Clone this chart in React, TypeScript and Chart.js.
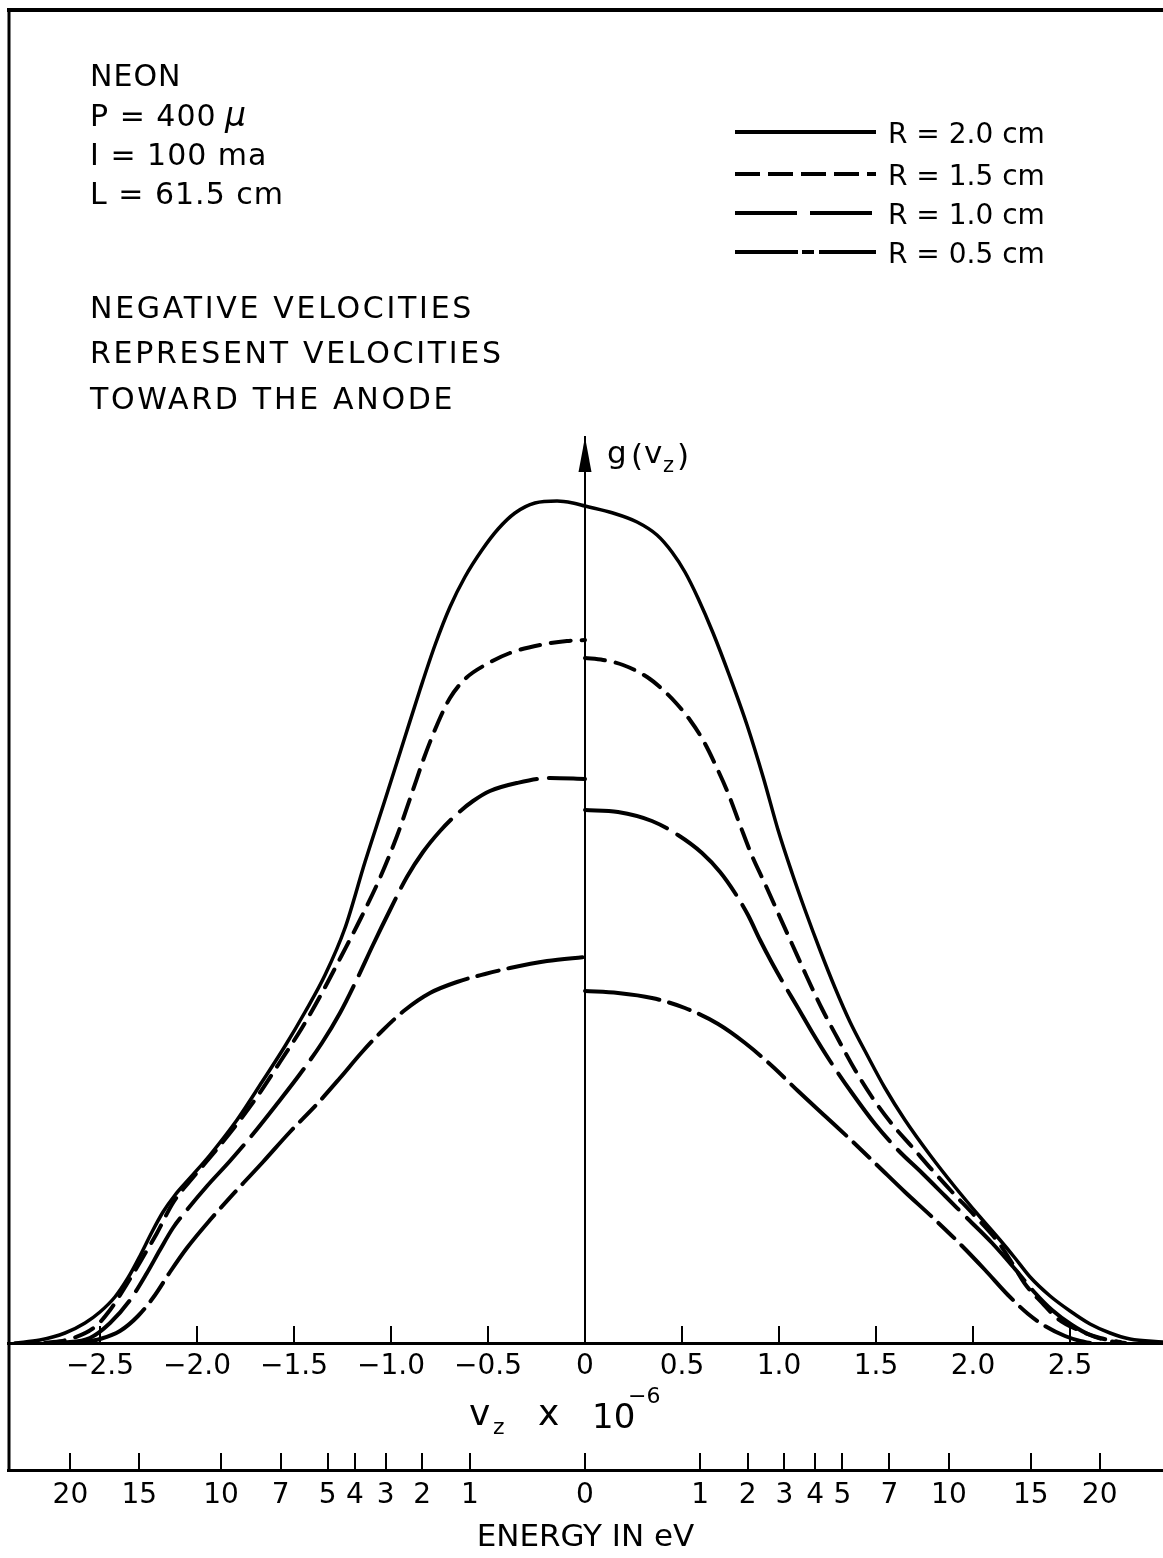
import { useEffect, useRef } from "react";
import { Chart, registerables } from "chart.js";

Chart.register(...registerables);

// ---------------- data ----------------
// velocity axis (v_z x 10^-6)
const vTicks = [-2.5, -2.0, -1.5, -1.0, -0.5, 0, 0.5, 1.0, 1.5, 2.0, 2.5];
const vTickLabels = ["\u22122.5", "\u22122.0", "\u22121.5", "\u22121.0", "\u22120.5", "0", "0.5", "1.0", "1.5", "2.0", "2.5"];

// energy axis (eV); negative side mirrored
const energyTicksLeft = [20, 15, 10, 7, 5, 4, 3, 2, 1];
const energyTicksRight = [0, 1, 2, 3, 4, 5, 7, 10, 15, 20];
const V_PER_SQRT_EV = 0.5931; // electron speed (10^6 m/s) per sqrt(eV)

const X_MIN = -2.974;
const X_MAX = 2.979;
const Y_MAX = 9.06;

// g(v_z) curves, [v, g] pairs; each has a left half (v<=0) and a right half (v>=0)
const r20Left = [[-2.938, 0], [-2.809, 0.03], [-2.68, 0.1], [-2.577, 0.2], [-2.5, 0.31], [-2.423, 0.46], [-2.356, 0.65], [-2.294, 0.87], [-2.232, 1.11], [-2.175, 1.31], [-2.113, 1.48], [-2.036, 1.65], [-1.933, 1.88], [-1.794, 2.23], [-1.665, 2.61], [-1.546, 2.97], [-1.443, 3.31], [-1.34, 3.68], [-1.237, 4.15], [-1.134, 4.81], [-1.031, 5.43], [-0.928, 6.06], [-0.851, 6.53], [-0.773, 6.98], [-0.696, 7.36], [-0.619, 7.66], [-0.531, 7.93], [-0.448, 8.14], [-0.361, 8.3], [-0.258, 8.4], [-0.144, 8.42], [-0.062, 8.4], [0, 8.37]];
const r20Right = [[0, 8.37], [0.144, 8.3], [0.268, 8.21], [0.371, 8.08], [0.448, 7.91], [0.515, 7.71], [0.582, 7.45], [0.66, 7.1], [0.747, 6.66], [0.835, 6.18], [0.918, 5.66], [0.995, 5.13], [1.067, 4.7], [1.134, 4.33], [1.211, 3.93], [1.289, 3.55], [1.366, 3.21], [1.454, 2.88], [1.546, 2.55], [1.649, 2.23], [1.778, 1.88], [1.907, 1.56], [2.036, 1.26], [2.139, 1.03], [2.216, 0.85], [2.294, 0.66], [2.397, 0.47], [2.5, 0.32], [2.603, 0.19], [2.706, 0.1], [2.809, 0.04], [2.979, 0.01]];

const r15Left = [[-2.784, 0], [-2.655, 0.04], [-2.526, 0.16], [-2.448, 0.33], [-2.361, 0.59], [-2.278, 0.86], [-2.206, 1.1], [-2.124, 1.4], [-2.036, 1.62], [-1.918, 1.89], [-1.794, 2.19], [-1.691, 2.46], [-1.572, 2.81], [-1.459, 3.15], [-1.356, 3.5], [-1.253, 3.88], [-1.155, 4.25], [-1.057, 4.65], [-0.969, 5.07], [-0.892, 5.5], [-0.83, 5.85], [-0.763, 6.18], [-0.696, 6.45], [-0.613, 6.65], [-0.515, 6.78], [-0.387, 6.9], [-0.232, 6.98], [-0.093, 7.02], [0, 7.03]];
const r15Right = [[0, 6.85], [0.093, 6.83], [0.196, 6.78], [0.32, 6.66], [0.397, 6.54], [0.469, 6.4], [0.541, 6.23], [0.608, 6.03], [0.675, 5.77], [0.737, 5.5], [0.799, 5.18], [0.861, 4.87], [0.928, 4.59], [0.995, 4.3], [1.067, 3.99], [1.139, 3.68], [1.222, 3.34], [1.304, 3.04], [1.392, 2.73], [1.479, 2.46], [1.582, 2.19], [1.686, 1.96], [1.789, 1.73], [1.892, 1.51], [2.01, 1.27], [2.129, 1.01], [2.201, 0.8], [2.268, 0.59], [2.356, 0.4], [2.438, 0.24], [2.541, 0.13], [2.655, 0.05], [2.758, 0.01]];

const r10Left = [[-2.706, 0], [-2.552, 0.05], [-2.448, 0.2], [-2.345, 0.43], [-2.258, 0.7], [-2.191, 0.93], [-2.124, 1.15], [-2.052, 1.33], [-1.948, 1.57], [-1.83, 1.82], [-1.711, 2.09], [-1.588, 2.39], [-1.469, 2.69], [-1.356, 3.0], [-1.263, 3.3], [-1.175, 3.64], [-1.093, 3.98], [-1.005, 4.33], [-0.918, 4.66], [-0.835, 4.91], [-0.747, 5.12], [-0.66, 5.29], [-0.577, 5.42], [-0.49, 5.52], [-0.351, 5.6], [-0.18, 5.65], [0, 5.64]];
const r10Right = [[0, 5.33], [0.17, 5.31], [0.345, 5.22], [0.479, 5.08], [0.603, 4.9], [0.696, 4.71], [0.773, 4.5], [0.84, 4.28], [0.902, 4.03], [0.964, 3.8], [1.031, 3.57], [1.098, 3.35], [1.17, 3.11], [1.263, 2.82], [1.376, 2.5], [1.495, 2.19], [1.613, 1.93], [1.737, 1.7], [1.856, 1.47], [1.974, 1.24], [2.098, 1.0], [2.216, 0.74], [2.32, 0.5], [2.407, 0.33], [2.51, 0.18], [2.603, 0.08], [2.706, 0.02], [2.784, 0]];

const r05Left = [[-2.603, 0], [-2.5, 0.04], [-2.397, 0.12], [-2.304, 0.27], [-2.216, 0.48], [-2.139, 0.71], [-2.052, 0.95], [-1.933, 1.23], [-1.794, 1.53], [-1.66, 1.81], [-1.521, 2.11], [-1.381, 2.39], [-1.263, 2.65], [-1.149, 2.91], [-1.041, 3.13], [-0.928, 3.33], [-0.799, 3.5], [-0.66, 3.61], [-0.515, 3.69], [-0.387, 3.75], [-0.196, 3.82], [0, 3.86]];
const r05Right = [[0, 3.52], [0.17, 3.5], [0.345, 3.45], [0.515, 3.35], [0.686, 3.19], [0.825, 3.0], [0.964, 2.77], [1.098, 2.52], [1.237, 2.27], [1.376, 2.02], [1.51, 1.77], [1.649, 1.51], [1.789, 1.26], [1.923, 1.01], [2.062, 0.73], [2.18, 0.48], [2.284, 0.29], [2.371, 0.17], [2.474, 0.07], [2.552, 0.02], [2.603, 0]];

const seriesLabels = ["R = 2.0 cm", "R = 1.5 cm", "R = 1.0 cm", "R = 0.5 cm"];
const seriesHalves = [
  [r20Left, r20Right],
  [r15Left, r15Right],
  [r10Left, r10Right],
  [r05Left, r05Right],
];

const infoLines = ["NEON", "P = 400 ", "I = 100 ma", "L = 61.5 cm"];
const noteLines = ["NEGATIVE VELOCITIES", "REPRESENT VELOCITIES", "TOWARD THE ANODE"];

// ---------------- styles ----------------
const FONT = "'DejaVu Sans', sans-serif";
const seriesDash = [[], [20, 11], [85, 12], [75, 10, 22, 10]];
const seriesWidth = [3.5, 4, 4, 4];
const legendDash = [[], [25, 8], [62, 13], [63, 4, 12, 5, 60]];
const legendRowsY = [132, 174, 213, 252];

function buildData(left: number[][], right: number[][]) {
  return [
    ...left.map(([x, y]) => ({ x, y })),
    { x: 0, y: null as any },
    ...right.map(([x, y]) => ({ x, y })),
  ];
}

function txt(ctx: CanvasRenderingContext2D, s: string, x: number, y: number, size: number, spacing = 0, style = "") {
  ctx.font = `${style} ${size}px ${FONT}`;
  (ctx as any).letterSpacing = `${spacing}px`;
  ctx.fillText(s, x, y);
  const w = ctx.measureText(s).width;
  (ctx as any).letterSpacing = "0px";
  return w;
}

const decor = {
  id: "decor",
  afterDraw(chart: any) {
    const ctx: CanvasRenderingContext2D = chart.ctx;
    const ca = chart.chartArea;
    const xs = chart.scales.x;
    const ys = chart.scales.y;
    const x2 = chart.scales.x2;
    ctx.save();
    ctx.fillStyle = "#000";
    ctx.strokeStyle = "#000";
    ctx.textBaseline = "alphabetic";
    ctx.textAlign = "left";

    // frame
    ctx.lineWidth = 4;
    ctx.beginPath();
    ctx.moveTo(ca.left - 1, 10);
    ctx.lineTo(chart.width, 10);
    ctx.stroke();
    ctx.lineWidth = 3;
    ctx.beginPath();
    ctx.moveTo(ca.left + 1, 8);
    ctx.lineTo(ca.left + 1, x2.top + 1);
    ctx.stroke();

    // arrow head on g axis
    const x0 = xs.getPixelForValue(0);
    const yTop = ys.getPixelForValue(ys.max);
    ctx.beginPath();
    ctx.moveTo(x0, yTop);
    ctx.lineTo(x0 - 6.5, yTop + 35);
    ctx.lineTo(x0 + 6.5, yTop + 35);
    ctx.closePath();
    ctx.fill();

    // g(v_z)
    txt(ctx, "g", x0 + 22, yTop + 26, 31);
    txt(ctx, "(", x0 + 46, yTop + 29, 31);
    txt(ctx, "v", x0 + 59, yTop + 26, 31);
    txt(ctx, "z", x0 + 78, yTop + 35, 21);
    txt(ctx, ")", x0 + 92, yTop + 29, 31);

    // info block
    const infoY = [86, 126, 165, 204];
    infoLines.forEach((s, i) => {
      const w = txt(ctx, s, 90, infoY[i], 30, 1);
      if (i === 1) txt(ctx, "\u03bc", 90 + w - 2, infoY[i], 33, 0, "italic");
    });
    const noteY = [318, 363, 409];
    noteLines.forEach((s, i) => txt(ctx, s, 90, noteY[i], 30, 2.7));

    // legend
    chart.data.datasets.forEach((ds: any, i: number) => {
      const y = legendRowsY[i];
      ctx.lineWidth = 4;
      ctx.setLineDash(legendDash[i]);
      ctx.beginPath();
      ctx.moveTo(735, y);
      ctx.lineTo(876, y);
      ctx.stroke();
      ctx.setLineDash([]);
      txt(ctx, ds.label, 888, y + 11, 28);
    });

    // velocity axis title: v_z x 10^-6
    const tY = 1425;
    txt(ctx, "v", 469, tY, 36);
    txt(ctx, "z", 493, tY + 9, 22);
    txt(ctx, "x", 538, tY, 36);
    txt(ctx, "10", 592, tY + 3, 34);
    txt(ctx, "\u22126", 628, tY - 22, 22);

    ctx.restore();
  },
};

export default function App() {
  const ref = useRef<HTMLCanvasElement>(null);
  useEffect(() => {
    const canvas = ref.current;
    if (!canvas) return;
    const energyValues = [
      ...energyTicksLeft.map((e) => -V_PER_SQRT_EV * Math.sqrt(e)),
      ...energyTicksRight.map((e) => V_PER_SQRT_EV * Math.sqrt(e)),
    ];
    const energyLabels = [...energyTicksLeft, ...energyTicksRight].map(String);

    const tickFont = { family: FONT, size: 28 };
    const grid = { display: true, drawOnChartArea: false, drawTicks: true, tickLength: -17, lineWidth: 2, color: "#000" };

    const chart = new Chart(canvas, {
      type: "line",
      data: {
        datasets: seriesHalves.map(([l, r], i) => ({
          label: seriesLabels[i],
          data: buildData(l, r),
          borderColor: "#000",
          backgroundColor: "#000",
          borderWidth: seriesWidth[i],
          borderDash: seriesDash[i],
          borderCapStyle: "round",
          pointRadius: 0,
          fill: false,
          spanGaps: false,
          cubicInterpolationMode: "monotone",
        })) as any,
      },
      options: {
        animation: false,
        responsive: false,
        devicePixelRatio: 1,
        parsing: false,
        normalized: true,
        layout: { padding: { top: 437, left: 8, right: 0, bottom: 0 } },
        plugins: { legend: { display: false }, tooltip: { enabled: false }, title: { display: false } },
        elements: { point: { radius: 0 } },
        scales: {
          x: {
            type: "linear",
            position: "bottom",
            min: X_MIN,
            max: X_MAX,
            afterFit: (s: any) => { s.height = 127; },
            afterBuildTicks: (s: any) => { s.ticks = vTicks.map((v) => ({ value: v })); },
            ticks: { autoSkip: false, maxRotation: 0, minRotation: 0, padding: 24, color: "#000", font: tickFont, callback: (_v: any, i: number) => vTickLabels[i] },
            grid,
            border: { display: true, color: "#000", width: 3 },
          },
          x2: {
            type: "linear",
            axis: "x",
            position: "bottom",
            min: X_MIN,
            max: X_MAX,
            afterFit: (s: any) => { s.height = 88; },
            afterBuildTicks: (s: any) => { s.ticks = energyValues.map((v) => ({ value: v })); },
            ticks: { autoSkip: false, maxRotation: 0, minRotation: 0, padding: 26, color: "#000", font: tickFont, callback: (_v: any, i: number) => energyLabels[i] },
            grid,
            border: { display: true, color: "#000", width: 3 },
            title: { display: true, text: "ENERGY IN eV", color: "#000", font: { family: FONT, size: 31 }, padding: { top: 0, bottom: 1 } },
          },
          y: {
            type: "linear",
            position: { x: 0 } as any,
            min: 0,
            max: Y_MAX,
            ticks: { display: false },
            grid: { display: false },
            border: { display: true, color: "#000", width: 2 },
          },
        } as any,
      },
      plugins: [decor],
    });
    return () => chart.destroy();
  }, []);

  return (
    <div style={{ position: "fixed", left: 0, top: 0, width: 1163, height: 1558, background: "#fff", overflow: "hidden" }}>
      <canvas ref={ref} width={1163} height={1558} style={{ display: "block", width: 1163, height: 1558 }} />
    </div>
  );
}
